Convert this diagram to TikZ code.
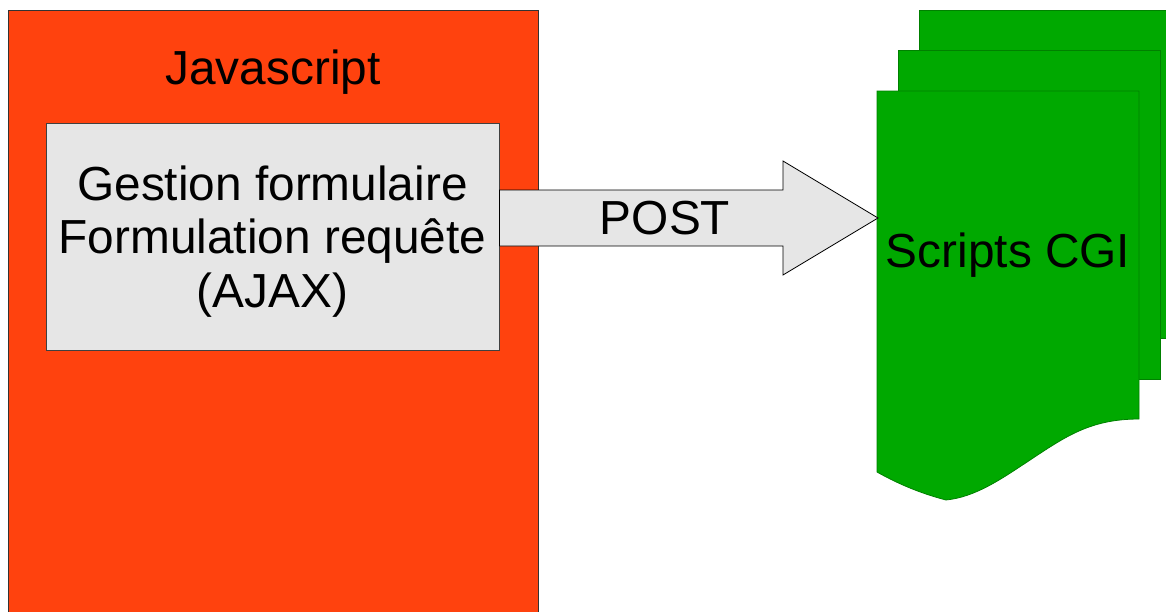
\documentclass[tikz,border=0pt]{standalone}
\usepackage{fontspec}
\setmainfont{Liberation Sans}
\usetikzlibrary{calc}
\definecolor{jsred}{HTML}{FF420E}
\definecolor{cgigreen}{HTML}{00A900}
\definecolor{cgiline}{HTML}{008000}
\definecolor{boxgray}{HTML}{E6E6E6}
\begin{document}
\begin{tikzpicture}[x=1pt,y=-1pt,
  big/.style={font=\fontsize{47.8}{53.5}\selectfont},
  page/.style={fill=cgigreen, draw=cgiline, line width=0.8pt},
  arrowbody/.style={fill=boxgray, draw=black, line width=0.8pt}]
\useasboundingbox (0,0) rectangle (1166,611);
\clip (0,0) rectangle (1166,611);
% client side
\draw[fill=jsred, draw=black!80, line width=0.8pt] (8,10) rectangle (538,640);
\node[big, anchor=base] (js) at (273,84) {Javascript};
\node[draw=black!75, fill=boxgray, line width=0.8pt, minimum width=453, minimum height=227, inner sep=0] (gestion) at (272.5,236.5) {};
\node[big, align=center] (gestiontxt) at ($(gestion.center)+(0,5)$) {Gestion formulaire\\Formulation requête\\(AJAX)};
% server side
\draw[page] (919,10) rectangle (1180,338);
\draw[page] (898,50) rectangle (1160,379);
\draw[page] (877,91) -- (1139,91) -- (1139,419) .. controls (1090,419) and (1065,437) .. (1030,460) .. controls (1000,480) and (975,497) .. (946,500) .. controls (923,494) and (900,485) .. (877,472) -- cycle;
\node[big, anchor=base] (cgi) at (1008,267) {Scripts CGI};
% request
\coordinate (tip) at (878,218);
\draw[arrowbody] ($(gestion.east|-tip)+(0,-28)$) -- ($(tip)+(-95,-28)$) -- ($(tip)+(-95,-57)$) -- (tip) -- ($(tip)+(-95,57)$) -- ($(tip)+(-95,28)$) -- ($(gestion.east|-tip)+(0,28)$) -- cycle;
\node[big, anchor=base] (post) at (665,234) {POST};
\end{tikzpicture}
\end{document}
